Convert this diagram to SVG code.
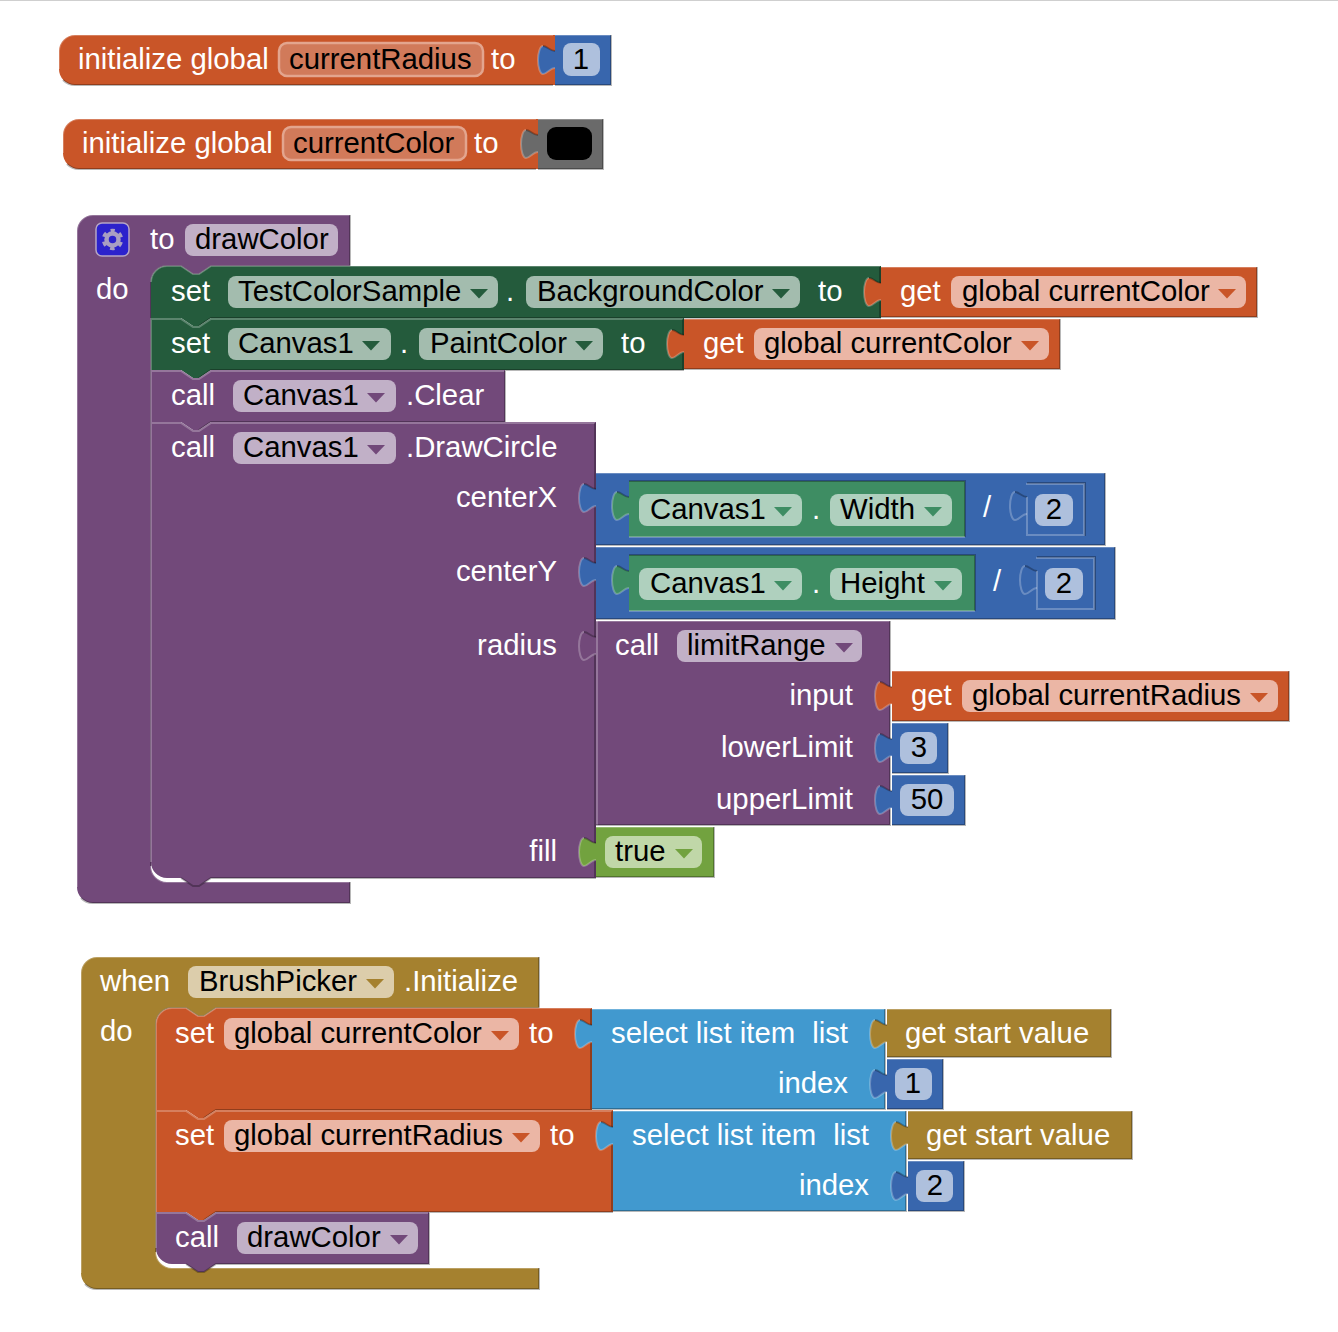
<svg xmlns="http://www.w3.org/2000/svg" xmlns:xlink="http://www.w3.org/1999/xlink" width="1338" height="1332" viewBox="0 0 1338 1332">
<style>
text{font-family:"Liberation Sans",Arial,sans-serif;font-size:29.33px;fill:#fff}
text.k{fill:#000}
text.e{text-anchor:end}
text.m{text-anchor:middle}
.hi,.lo{fill:none;stroke-width:2}
.hi{stroke:rgba(255,255,255,.25)}
.lo{stroke:rgba(0,0,0,.28)}
.org{fill:#c95528}.pur{fill:#72497a}.dgr{fill:#245b3c}.lgr{fill:#3e8d63}.blu{fill:#3866ad}.lst{fill:#4199cf}.gld{fill:#a5812f}.lim{fill:#72a23f}.gry{fill:#6a6a6a}
.forg{fill:#ebb6a5}.fpur{fill:#c1b0c7}.fdgr{fill:#a3bcae}.flgr{fill:#afd0be}.fblu{fill:#aec0dd}.fgld{fill:#dccdab}.flim{fill:#c0d7a8}
.init{fill:#d17a5a;stroke:#e3a58e;stroke-width:2.5}
</style>
<defs>
<g id="tab"><path d="M2,16 H0 C-5,16 -8,11 -12,11 C-15,11 -17,18 -17,25 C-17,32 -15,39 -12,39 C-8,39 -5,33 0,33 H2z"/><path class="lo" d="M0,16 C-5,16 -8,11 -12,11"/><path class="hi" d="M-12,11 C-15,11 -17,18 -17,25 C-17,32 -15,39 -12,39 C-8,39 -5,33 0,33"/></g>
<path id="arr" d="M-9,0 h18 l-9,9.5z"/>
</defs>
<rect width="1338" height="1" fill="#cfcfcf"/>

<g id="init-radius">
<path class="org" d="M75,35 H555 V85 H75 a16,16 0 0 1 -16,-16 V51 a16,16 0 0 1 16,-16z"/>
<path class="hi" d="M59,69 V51 a16,16 0 0 1 16,-16 H553"/><path class="lo" d="M63,80 Q68,85 75,85 H553"/>
<text x="78" y="69">initialize global</text>
<rect class="init" x="279" y="43" width="204" height="33" rx="8"/>
<text class="k" x="289" y="69">currentRadius</text>
<text x="491" y="69">to</text>
</g>
<g id="num-1a">
<rect class="blu" x="555" y="35" width="56" height="50"/>
<use href="#tab" x="555" y="35" class="blu"/>
<path class="hi" d="M555,35 H611"/><path class="lo" d="M555,85 H611 V35"/>
<rect class="fblu" x="563" y="43" width="37" height="33" rx="8"/>
<text class="k m" x="581" y="69">1</text>
</g>

<g id="init-color">
<path class="org" d="M79,119 H538 V169 H79 a16,16 0 0 1 -16,-16 V135 a16,16 0 0 1 16,-16z"/>
<path class="hi" d="M63,153 V135 a16,16 0 0 1 16,-16 H536"/><path class="lo" d="M67,164 Q72,169 79,169 H536"/>
<text x="82" y="153">initialize global</text>
<rect class="init" x="283" y="127" width="183" height="33" rx="8"/>
<text class="k" x="293" y="153">currentColor</text>
<text x="474" y="153">to</text>
</g>
<g id="color-black">
<rect class="gry" x="538" y="119" width="65" height="50"/>
<use href="#tab" x="538" y="119" class="gry"/>
<path class="hi" d="M538,119 H603"/><path class="lo" d="M538,169 H603 V119"/>
<rect x="547" y="127" width="45" height="33" rx="9" fill="#000"/>
</g>

<g id="proc-drawColor">
<path class="pur" d="M93,215 H350 V266 H211 l-12,8 h-6 l-12,-8 h-14 a16,16 0 0 0 -16,16 V866 a16,16 0 0 0 16,16 H350 V903 H93 a16,16 0 0 1 -16,-16 V231 a16,16 0 0 1 16,-16z"/>
<path class="hi" d="M77,887 V231 a16,16 0 0 1 16,-16 H350"/>
<path class="hi" d="M151,866 a16,16 0 0 0 16,16 H350"/>
<path class="lo" d="M350,215 V266 H211 l-12,8 h-6 l-12,-8 h-14 a16,16 0 0 0 -16,16 V866"/>
<path class="lo" d="M350,882 V903 H93 a16,16 0 0 1 -12,-5"/>
<rect x="96" y="223" width="33" height="33" rx="6" fill="#2c22cc" stroke="#b5a5c5" stroke-width="1.5"/>
<circle cx="112.500" cy="239.500" r="6" fill="none" stroke="#a99fc2" stroke-width="4.500"/>
<circle cx="112.500" cy="239.500" r="9" fill="none" stroke="#a99fc2" stroke-width="3.500" stroke-dasharray="4.500 4.925" stroke-dashoffset="2.250" transform="rotate(-90 112.500 239.500)"/>
<text x="150" y="249">to</text>
<rect class="fpur" x="185" y="224" width="153" height="32" rx="8"/>
<text class="k" x="195" y="249">drawColor</text>
<text x="96" y="299">do</text>
</g>

<g id="set-background">
<path class="dgr" d="M151,282 a16,16 0 0 1 16,-16 H181 l12,8 h6 l12,-8 H881 V318 H211 l-12,8 h-6 l-12,-8 H151z"/>
<path class="hi" d="M151,282 a16,16 0 0 1 16,-16 H181 l12,8 h6 l12,-8 H880"/><path class="lo" d="M880,267 V318 H211 l-12,8"/>
<text x="171" y="301">set</text>
<rect class="fdgr" x="228" y="276" width="270" height="32" rx="8"/>
<text class="k" x="238" y="301">TestColorSample</text>
<use href="#arr" x="479" y="289" class="dgr"/>
<text x="506" y="301">.</text>
<rect class="fdgr" x="526" y="276" width="274" height="32" rx="8"/>
<text class="k" x="537" y="301">BackgroundColor</text>
<use href="#arr" x="781" y="289" class="dgr"/>
<text x="818" y="301">to</text>
</g>
<g id="get-color-1">
<rect class="org" x="881" y="267" width="376" height="50"/>
<use href="#tab" x="881" y="267" class="org"/>
<path class="hi" d="M881,267 H1257"/><path class="lo" d="M881,317 H1257 V267"/>
<text x="900" y="301">get</text>
<rect class="forg" x="951" y="276" width="295" height="32" rx="8"/>
<text class="k" x="962" y="301">global currentColor</text>
<use href="#arr" x="1227" y="289" class="org"/>
</g>

<g id="set-paint">
<path class="dgr" d="M151,318 H181 l12,8 h6 l12,-8 H684 V370 H211 l-12,8 h-6 l-12,-8 H151z"/>
<path class="hi" d="M151,370 V319 H181 l12,8 h6 l12,-8 H683"/><path class="lo" d="M683,319 V370 H211 l-12,8"/>
<text x="171" y="353">set</text>
<rect class="fdgr" x="228" y="328" width="163" height="32" rx="8"/>
<text class="k" x="238" y="353">Canvas1</text>
<use href="#arr" x="371" y="341" class="dgr"/>
<text x="400" y="353">.</text>
<rect class="fdgr" x="419" y="328" width="184" height="32" rx="8"/>
<text class="k" x="430" y="353">PaintColor</text>
<use href="#arr" x="584" y="341" class="dgr"/>
<text x="621" y="353">to</text>
</g>
<g id="get-color-2">
<rect class="org" x="684" y="319" width="376" height="50"/>
<use href="#tab" x="684" y="319" class="org"/>
<path class="hi" d="M684,319 H1060"/><path class="lo" d="M684,369 H1060 V319"/>
<text x="703" y="353">get</text>
<rect class="forg" x="754" y="328" width="295" height="32" rx="8"/>
<text class="k" x="764" y="353">global currentColor</text>
<use href="#arr" x="1030" y="341" class="org"/>
</g>

<g id="call-clear">
<path class="pur" d="M151,370 H181 l12,8 h6 l12,-8 H505 V422 H211 l-12,8 h-6 l-12,-8 H151z"/>
<path class="hi" d="M151,422 V371 H181 l12,8 h6 l12,-8 H504"/><path class="lo" d="M505,371 V422 H211 l-12,8"/>
<text x="171" y="405">call</text>
<rect class="fpur" x="233" y="380" width="163" height="32" rx="8"/>
<text class="k" x="243" y="405">Canvas1</text>
<use href="#arr" x="376" y="393" class="pur"/>
<text x="406" y="405">.Clear</text>
</g>

<g id="call-drawCircle">
<path class="pur" d="M151,422 H181 l12,8 h6 l12,-8 H596 V878 H211 l-12,8 h-6 l-12,-8 H167 a16,16 0 0 1 -16,-16z"/>
<path class="hi" d="M151,862 V423 H181 l12,8 h6 l12,-8 H595"/><path class="lo" d="M595,423 V878 H211 l-12,8 h-6 l-12,-8"/>
<text x="171" y="457">call</text>
<rect class="fpur" x="233" y="432" width="163" height="32" rx="8"/>
<text class="k" x="243" y="457">Canvas1</text>
<use href="#arr" x="376" y="445" class="pur"/>
<text x="406" y="457">.DrawCircle</text>
<text class="e" x="557" y="507">centerX</text>
<text class="e" x="557" y="581">centerY</text>
<text class="e" x="557" y="655">radius</text>
<text class="e" x="557" y="861">fill</text>
</g>

<g id="div-x">
<rect class="blu" x="596" y="473" width="509" height="72"/>
<use href="#tab" x="596" y="473" class="blu"/>
<path class="hi" d="M596,473 H1105"/><path class="lo" d="M596,545 H1105 V473"/>
<text x="983" y="517">/</text>
</g>
<g id="prop-width">
<rect class="lgr" x="629" y="481" width="336" height="56"/>
<use href="#tab" x="629" y="481" class="lgr"/>
<path class="lo" d="M629,481 H965 V537"/><path class="hi" d="M629,537 H965"/>
<rect class="flgr" x="639" y="494" width="163" height="32" rx="8"/>
<text class="k" x="650" y="519">Canvas1</text>
<use href="#arr" x="783" y="507" class="lgr"/>
<text x="812" y="519">.</text>
<rect class="flgr" x="830" y="494" width="122" height="32" rx="8"/>
<text class="k" x="840" y="519">Width</text>
<use href="#arr" x="933" y="507" class="lgr"/>
</g>
<g id="num-2a">
<use href="#tab" x="1027" y="481" class="blu"/>
<path class="lo" d="M1027,483 H1085 V536"/><path class="hi" d="M1026,484 H1084 V535 H1027 V497"/>
<rect class="fblu" x="1035" y="494" width="38" height="32" rx="8"/>
<text class="k m" x="1054" y="519">2</text>
</g>

<g id="div-y">
<rect class="blu" x="596" y="547" width="519" height="72"/>
<use href="#tab" x="596" y="547" class="blu"/>
<path class="hi" d="M596,547 H1115"/><path class="lo" d="M596,619 H1115 V547"/>
<text x="993" y="591">/</text>
</g>
<g id="prop-height">
<rect class="lgr" x="629" y="555" width="346" height="56"/>
<use href="#tab" x="629" y="555" class="lgr"/>
<path class="lo" d="M629,555 H975 V611"/><path class="hi" d="M629,611 H975"/>
<rect class="flgr" x="639" y="568" width="163" height="32" rx="8"/>
<text class="k" x="650" y="593">Canvas1</text>
<use href="#arr" x="783" y="581" class="lgr"/>
<text x="812" y="593">.</text>
<rect class="flgr" x="830" y="568" width="132" height="32" rx="8"/>
<text class="k" x="840" y="593">Height</text>
<use href="#arr" x="943" y="581" class="lgr"/>
</g>
<g id="num-2b">
<use href="#tab" x="1037" y="555" class="blu"/>
<path class="lo" d="M1037,557 H1095 V610"/><path class="hi" d="M1036,558 H1094 V609 H1037 V571"/>
<rect class="fblu" x="1045" y="568" width="38" height="32" rx="8"/>
<text class="k m" x="1064" y="593">2</text>
</g>

<g id="call-limitRange">
<rect class="pur" x="596" y="621" width="294" height="204"/>
<use href="#tab" x="596" y="621" class="pur"/>
<path class="hi" d="M596,621 H890"/><path class="hi" d="M597,621 V825"/><path class="lo" d="M596,825 H890 V621"/>
<text x="615" y="655">call</text>
<rect class="fpur" x="677" y="630" width="185" height="32" rx="8"/>
<text class="k" x="687" y="655">limitRange</text>
<use href="#arr" x="844" y="643" class="pur"/>
<text class="e" x="853" y="705">input</text>
<text class="e" x="853" y="757">lowerLimit</text>
<text class="e" x="853" y="809">upperLimit</text>
</g>
<g id="get-radius-1">
<rect class="org" x="892" y="671" width="397" height="50"/>
<use href="#tab" x="892" y="671" class="org"/>
<path class="hi" d="M892,671 H1289"/><path class="lo" d="M892,721 H1289 V671"/>
<text x="911" y="705">get</text>
<rect class="forg" x="962" y="680" width="316" height="32" rx="8"/>
<text class="k" x="972" y="705">global currentRadius</text>
<use href="#arr" x="1259" y="693" class="org"/>
</g>
<g id="num-3">
<rect class="blu" x="892" y="723" width="56" height="50"/>
<use href="#tab" x="892" y="723" class="blu"/>
<path class="hi" d="M892,723 H948"/><path class="lo" d="M892,773 H948 V723"/>
<rect class="fblu" x="900" y="732" width="37" height="32" rx="8"/>
<text class="k m" x="919" y="757">3</text>
</g>
<g id="num-50">
<rect class="blu" x="892" y="775" width="73" height="50"/>
<use href="#tab" x="892" y="775" class="blu"/>
<path class="hi" d="M892,775 H965"/><path class="lo" d="M892,825 H965 V775"/>
<rect class="fblu" x="900" y="784" width="54" height="32" rx="8"/>
<text class="k m" x="927" y="809">50</text>
</g>
<g id="bool-true">
<rect class="lim" x="596" y="827" width="118" height="50"/>
<use href="#tab" x="596" y="827" class="lim"/>
<path class="hi" d="M596,827 H714"/><path class="lo" d="M596,877 H714 V827"/>
<rect class="flim" x="605" y="836" width="97" height="32" rx="8"/>
<text class="k" x="615" y="861">true</text>
<use href="#arr" x="684" y="849" class="lim"/>
</g>

<g id="when-initialize">
<path class="gld" d="M97,957 H539 V1008 H216 l-12,8 h-6 l-12,-8 h-14 a16,16 0 0 0 -16,16 V1252 a16,16 0 0 0 16,16 H539 V1289 H97 a16,16 0 0 1 -16,-16 V973 a16,16 0 0 1 16,-16z"/>
<path class="hi" d="M81,1273 V973 a16,16 0 0 1 16,-16 H539"/>
<path class="hi" d="M156,1252 a16,16 0 0 0 16,16 H539"/>
<path class="lo" d="M539,957 V1008 H216 l-12,8 h-6 l-12,-8 h-14 a16,16 0 0 0 -16,16 V1252"/>
<path class="lo" d="M539,1268 V1289 H97 a16,16 0 0 1 -12,-5"/>
<text x="100" y="991">when</text>
<rect class="fgld" x="188" y="966" width="206" height="32" rx="8"/>
<text class="k" x="199" y="991">BrushPicker</text>
<use href="#arr" x="375" y="979" class="gld"/>
<text x="404" y="991">.Initialize</text>
<text x="100" y="1041">do</text>
</g>

<g id="set-color">
<path class="org" d="M156,1024 a16,16 0 0 1 16,-16 H186 l12,8 h6 l12,-8 H592 V1110 H216 l-12,8 h-6 l-12,-8 H156z"/>
<path class="hi" d="M156,1110 V1024 a16,16 0 0 1 16,-16 H186 l12,8 h6 l12,-8 H591"/><path class="lo" d="M591,1009 V1110 H216 l-12,8"/>
<text x="175" y="1043">set</text>
<rect class="forg" x="224" y="1018" width="295" height="32" rx="8"/>
<text class="k" x="234" y="1043">global currentColor</text>
<use href="#arr" x="500" y="1031" class="org"/>
<text x="529" y="1043">to</text>
</g>
<g id="select-1">
<rect class="lst" x="592" y="1009" width="293" height="100"/>
<use href="#tab" x="592" y="1009" class="lst"/>
<path class="hi" d="M592,1009 H885"/><path class="lo" d="M592,1109 H885 V1009"/>
<text x="611" y="1043">select list item</text>
<text class="e" x="848" y="1043">list</text>
<text class="e" x="848" y="1093">index</text>
</g>
<g id="get-start-1">
<rect class="gld" x="887" y="1009" width="224" height="48"/>
<use href="#tab" x="887" y="1009" class="gld"/>
<path class="hi" d="M887,1009 H1111"/><path class="lo" d="M887,1057 H1111 V1009"/>
<text x="905" y="1043">get start value</text>
</g>
<g id="num-1b">
<rect class="blu" x="887" y="1059" width="56" height="50"/>
<use href="#tab" x="887" y="1059" class="blu"/>
<path class="hi" d="M887,1059 H943"/><path class="lo" d="M887,1109 H943 V1059"/>
<rect class="fblu" x="895" y="1068" width="37" height="32" rx="8"/>
<text class="k m" x="913" y="1093">1</text>
</g>

<g id="set-radius">
<path class="org" d="M156,1110 H186 l12,8 h6 l12,-8 H613 V1212 H216 l-12,8 h-6 l-12,-8 H156z"/>
<path class="hi" d="M156,1212 V1111 H186 l12,8 h6 l12,-8 H612"/><path class="lo" d="M612,1111 V1212 H216 l-12,8"/>
<text x="175" y="1145">set</text>
<rect class="forg" x="224" y="1120" width="316" height="32" rx="8"/>
<text class="k" x="234" y="1145">global currentRadius</text>
<use href="#arr" x="521" y="1133" class="org"/>
<text x="550" y="1145">to</text>
</g>
<g id="select-2">
<rect class="lst" x="613" y="1111" width="293" height="100"/>
<use href="#tab" x="613" y="1111" class="lst"/>
<path class="hi" d="M613,1111 H906"/><path class="lo" d="M613,1211 H906 V1111"/>
<text x="632" y="1145">select list item</text>
<text class="e" x="869" y="1145">list</text>
<text class="e" x="869" y="1195">index</text>
</g>
<g id="get-start-2">
<rect class="gld" x="908" y="1111" width="224" height="48"/>
<use href="#tab" x="908" y="1111" class="gld"/>
<path class="hi" d="M908,1111 H1132"/><path class="lo" d="M908,1159 H1132 V1111"/>
<text x="926" y="1145">get start value</text>
</g>
<g id="num-2c">
<rect class="blu" x="908" y="1161" width="56" height="50"/>
<use href="#tab" x="908" y="1161" class="blu"/>
<path class="hi" d="M908,1161 H964"/><path class="lo" d="M908,1211 H964 V1161"/>
<rect class="fblu" x="916" y="1170" width="37" height="32" rx="8"/>
<text class="k m" x="935" y="1195">2</text>
</g>

<g id="call-drawColor">
<path class="pur" d="M156,1212 H186 l12,8 h6 l12,-8 H429 V1264 H216 l-12,8 h-6 l-12,-8 H172 a16,16 0 0 1 -16,-16z"/>
<path class="hi" d="M156,1248 V1213 H186 l12,8 h6 l12,-8 H428"/><path class="lo" d="M429,1213 V1264 H216 l-12,8 h-6 l-12,-8"/>
<text x="175" y="1247">call</text>
<rect class="fpur" x="237" y="1222" width="181" height="32" rx="8"/>
<text class="k" x="247" y="1247">drawColor</text>
<use href="#arr" x="399" y="1235" class="pur"/>
</g>
</svg>
